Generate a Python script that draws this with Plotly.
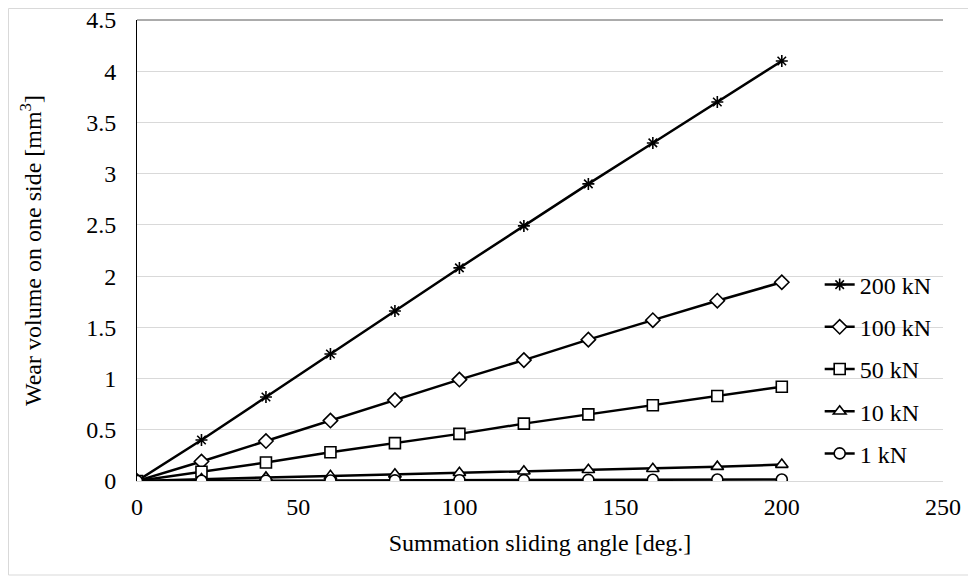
import plotly.graph_objects as go

angle = [0, 20, 40, 60, 80, 100, 120, 140, 160, 180, 200]
v200 = [0, 0.40, 0.82, 1.24, 1.66, 2.08, 2.49, 2.90, 3.30, 3.70, 4.10]
v100 = [0, 0.19, 0.39, 0.59, 0.79, 0.99, 1.18, 1.38, 1.57, 1.76, 1.94]
v50 = [0, 0.09, 0.18, 0.28, 0.37, 0.46, 0.56, 0.65, 0.74, 0.83, 0.92]
v10 = [0, 0.02, 0.035, 0.05, 0.065, 0.08, 0.095, 0.11, 0.12, 0.14, 0.16]
v1 = [0, 0.002, 0.003, 0.005, 0.006, 0.008, 0.009, 0.011, 0.012, 0.014, 0.015]

series = [
    ("200 kN", v200, "asterisk-open"),
    ("100 kN", v100, "diamond"),
    ("50 kN", v50, "square"),
    ("10 kN", v10, "triangle-up"),
    ("1 kN", v1, "circle"),
]

fig = go.Figure()
for i, (name, vals, sym) in enumerate(series):
    fig.add_trace(go.Scatter(
        x=angle, y=vals, name=name, mode="lines+markers",
        line=dict(color="black", width=2.5),
        marker=dict(symbol=sym, size=11 if sym != "asterisk-open" else 10,
                    color="white" if sym != "asterisk-open" else "black",
                    line=dict(color="black", width=1.6)),
        legendgroup=f"g{i}",
    ))

# plot area (screen px): x 137..943, y 20..481 ; page body adds 8px offset
L, R, T, B = 137, 943, 20, 481
W, H = R - L, B - T

font_family = "Times New Roman, Liberation Serif, serif"
fig.update_layout(
    width=968, height=571,
    margin=dict(l=129, r=33, t=12, b=98, autoexpand=False),
    paper_bgcolor="white", plot_bgcolor="white",
    font=dict(family=font_family, size=24, color="black"),
    showlegend=True,
    legend=dict(x=0.847, y=(B - 369) / H, xanchor="left", yanchor="middle",
                bgcolor="rgba(0,0,0,0)", font=dict(family=font_family, size=24),
                tracegroupgap=8, itemwidth=30),
    xaxis=dict(range=[0, 250], tickvals=[0, 50, 100, 150, 200, 250],
               showgrid=False, zeroline=False, ticks="", automargin=False,
               showline=True, linecolor="#d9d9d9", linewidth=1,
               ticklabelstandoff=4,
               title=dict(text="Summation sliding angle [deg.]",
                          font=dict(family=font_family, size=24), standoff=15),
               tickfont=dict(family=font_family, size=24)),
    yaxis=dict(range=[0, 4.5], dtick=0.5, showgrid=True, gridcolor="#d9d9d9",
               zeroline=False, ticks="", showline=True, linecolor="black", linewidth=1,
               ticklabeloverflow="allow", automargin=False, ticklabelstandoff=15,
               title=dict(text="Wear volume on one side [mm<sup>3</sup>]",
                          font=dict(family=font_family, size=24), standoff=37),
               tickfont=dict(family=font_family, size=24)),
    shapes=[
        dict(type="line", xref="paper", yref="paper", x0=0, x1=1, y0=1, y1=1,
             line=dict(color="#595959", width=1)),
        dict(type="rect", xref="paper", yref="paper",
             x0=(8.5 - L) / W, x1=(970 - L) / W,
             y0=(B - 575) / H, y1=(B - 8.5) / H,
             line=dict(color="#d9d9d9", width=1), layer="below"),
    ],
)

fig.write_html("out.html")
